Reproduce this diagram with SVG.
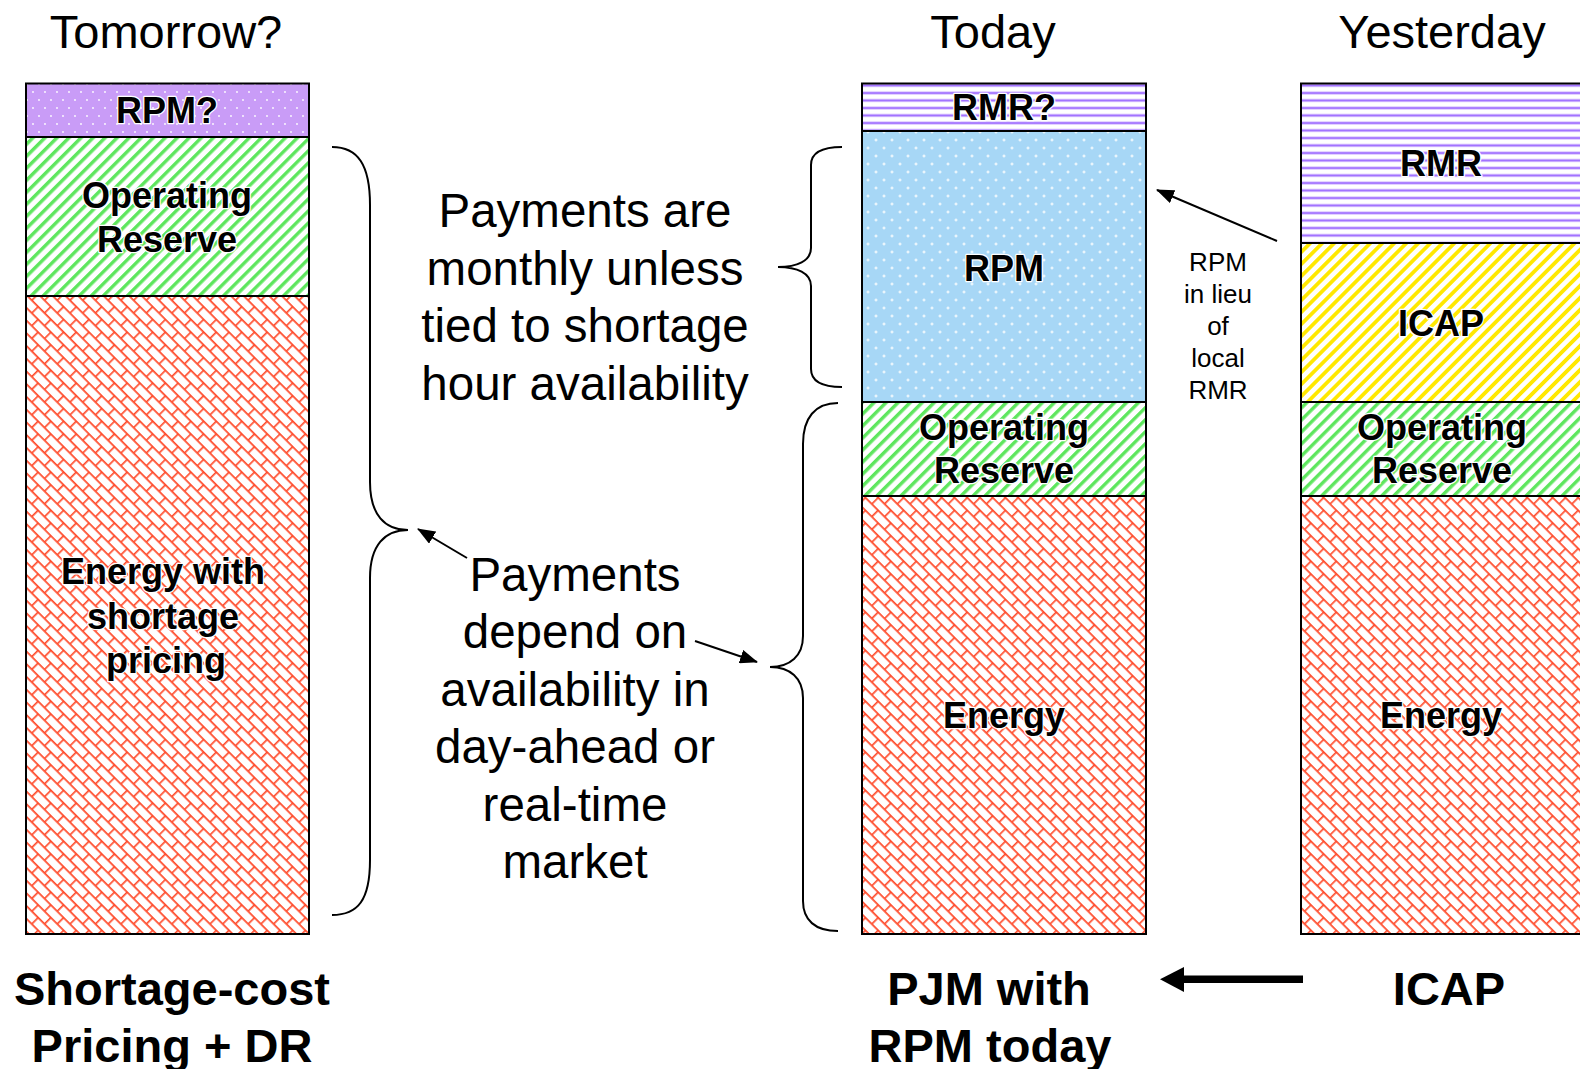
<svg xmlns="http://www.w3.org/2000/svg" width="1580" height="1069" viewBox="0 0 1580 1069">
<style>
.h{font-family:"Liberation Sans",Arial,sans-serif;font-size:47px;fill:#000;text-anchor:middle}
.m{font-family:"Liberation Sans",Arial,sans-serif;font-size:47.5px;fill:#000;text-anchor:middle}
.s{font-family:"Liberation Sans",Arial,sans-serif;font-size:26px;fill:#000;text-anchor:middle}
.b{font-family:"Liberation Sans",Arial,sans-serif;font-size:36px;font-weight:bold;fill:#000;text-anchor:middle;stroke:#fff;stroke-width:2.5;paint-order:stroke;stroke-linejoin:round}
.f{font-family:"Liberation Sans",Arial,sans-serif;font-size:47px;font-weight:bold;fill:#000;text-anchor:middle}
.box{stroke:#000;stroke-width:2}
.br{fill:none;stroke:#000;stroke-width:2}
.ar{stroke:#000;stroke-width:2;fill:none}
</style>
<defs>
<pattern id="pGreen" width="8.5" height="8.5" patternUnits="userSpaceOnUse" patternTransform="rotate(45)">
<rect width="8.5" height="8.5" fill="#fff"/><rect x="0" y="0" width="3.4" height="8.5" fill="#5ee65e"/>
</pattern>
<pattern id="pYellow" width="8.5" height="8.5" patternUnits="userSpaceOnUse" patternTransform="rotate(45)">
<rect width="8.5" height="8.5" fill="#fff"/><rect x="0" y="0" width="3.8" height="8.5" fill="#ffe800"/>
</pattern>
<pattern id="pPurpleH" width="10" height="7.5" patternUnits="userSpaceOnUse">
<rect width="10" height="7.5" fill="#fff"/><rect y="1.5" width="10" height="3" fill="#cdb0ff"/><rect y="2.3" width="10" height="1.4" fill="#9966ff"/>
</pattern>
<pattern id="pPurpleDot" width="12" height="16" patternUnits="userSpaceOnUse">
<rect width="12" height="16" fill="#c99cf7"/><circle cx="3" cy="4" r="0.9" fill="#fff"/><circle cx="9" cy="12" r="0.9" fill="#fff"/>
</pattern>
<pattern id="pBlue" width="16" height="16" patternUnits="userSpaceOnUse">
<rect width="16" height="16" fill="#a7d7f6"/>
<path d="M4 2.5v3M2.5 4h3M12 10.5v3M10.5 12h3" stroke="#fff" stroke-width="1"/>
</pattern>
<pattern id="pRed" width="18" height="18" patternUnits="userSpaceOnUse" patternTransform="rotate(45)">
<rect width="18" height="18" fill="#fff"/>
<path d="M0 0.8H18M0 9.8H18M0.8 0V9.8M9.8 9.8V18" stroke="#ff4b2b" stroke-width="1.7"/>
</pattern>
<marker id="ah2" markerWidth="18" markerHeight="14" refX="17" refY="7" orient="auto" markerUnits="userSpaceOnUse" viewBox="0 0 18 14">
<path d="M0 0L18 7L0 14z" fill="#000"/>
</marker>
</defs>
<rect width="1580" height="1069" fill="#fff"/>

<text class="h" x="166" y="48">Tomorrow?</text>
<text class="h" x="993" y="48">Today</text>
<text class="h" x="1442" y="48">Yesterday</text>

<g id="col-tomorrow">
<rect class="box" x="26" y="83.5" width="283" height="53.5" fill="url(#pPurpleDot)"/>
<rect class="box" x="26" y="137" width="283" height="159" fill="url(#pGreen)"/>
<rect class="box" x="26" y="296" width="283" height="638" fill="url(#pRed)"/>
<text class="b" x="167" y="123">RPM?</text>
<text class="b" x="167" y="208">Operating</text>
<text class="b" x="167" y="252">Reserve</text>
<text class="b" x="163" y="584">Energy with</text>
<text class="b" x="163" y="629">shortage</text>
<text class="b" x="166" y="673">pricing</text>
</g>

<g id="col-today">
<rect class="box" x="862" y="83.5" width="284" height="47.5" fill="url(#pPurpleH)"/>
<rect class="box" x="862" y="131" width="284" height="271" fill="url(#pBlue)"/>
<rect class="box" x="862" y="402" width="284" height="94" fill="url(#pGreen)"/>
<rect class="box" x="862" y="496" width="284" height="438" fill="url(#pRed)"/>
<text class="b" x="1004" y="120">RMR?</text>
<text class="b" x="1004" y="281">RPM</text>
<text class="b" x="1004" y="440">Operating</text>
<text class="b" x="1004" y="483">Reserve</text>
<text class="b" x="1004" y="728">Energy</text>
</g>

<g id="col-yesterday">
<rect class="box" x="1301" y="83.5" width="300" height="159.5" fill="url(#pPurpleH)"/>
<rect class="box" x="1301" y="243" width="300" height="159" fill="url(#pYellow)"/>
<rect class="box" x="1301" y="402" width="300" height="94" fill="url(#pGreen)"/>
<rect class="box" x="1301" y="496" width="300" height="438" fill="url(#pRed)"/>
<text class="b" x="1441" y="176">RMR</text>
<text class="b" x="1441" y="336">ICAP</text>
<text class="b" x="1442" y="440">Operating</text>
<text class="b" x="1442" y="483">Reserve</text>
<text class="b" x="1441" y="728">Energy</text>
</g>

<g id="note-monthly">
<text class="m" x="585" y="227">Payments are</text>
<text class="m" x="585" y="285">monthly unless</text>
<text class="m" x="585" y="342">tied to shortage</text>
<text class="m" x="585" y="400">hour availability</text>
</g>

<g id="note-availability">
<text class="m" x="575" y="591">Payments</text>
<text class="m" x="575" y="648">depend on</text>
<text class="m" x="575" y="706">availability in</text>
<text class="m" x="575" y="763">day-ahead or</text>
<text class="m" x="575" y="821">real-time</text>
<text class="m" x="575" y="878">market</text>
</g>

<g id="note-lieu">
<text class="s" x="1218" y="271">RPM</text>
<text class="s" x="1218" y="303">in lieu</text>
<text class="s" x="1218" y="335">of</text>
<text class="s" x="1218" y="367">local</text>
<text class="s" x="1218" y="399">RMR</text>
</g>

<g id="footer-labels">
<text class="f" x="172" y="1005">Shortage-cost</text>
<text class="f" x="172" y="1062">Pricing + DR</text>
<text class="f" x="989" y="1005">PJM with</text>
<text class="f" x="990" y="1062">RPM today</text>
<text class="f" x="1449" y="1005">ICAP</text>
</g>

<g id="connectors">
<path class="br" d="M332,147 C358,147 370,165 370,205 L370,482 C370,515 385,530 408,530 C385,530 370,545 370,578 L370,860 C370,900 358,915 332,915"/>
<path class="br" d="M842,147 C822,147 811,152 811,165 L811,248 C811,261 797,267 778,267 C797,267 811,273 811,286 L811,369 C811,382 822,387 842,387"/>
<path class="br" d="M838,403 C815,403 803,418 803,444 L803,636 C803,656 790,667 770,667 C790,667 803,678 803,698 L803,901 C803,920 815,931 838,931"/>
<line class="ar" x1="1277" y1="241" x2="1157" y2="190" marker-end="url(#ah2)"/>
<line class="ar" x1="467" y1="558" x2="418" y2="529" marker-end="url(#ah2)"/>
<line class="ar" x1="695" y1="641" x2="757" y2="662" marker-end="url(#ah2)"/>
<rect x="1182" y="975.5" width="121" height="7.5" fill="#000"/>
<path d="M1160,979.3 L1184,967 L1184,992 Z" fill="#000"/>
</g>
</svg>
